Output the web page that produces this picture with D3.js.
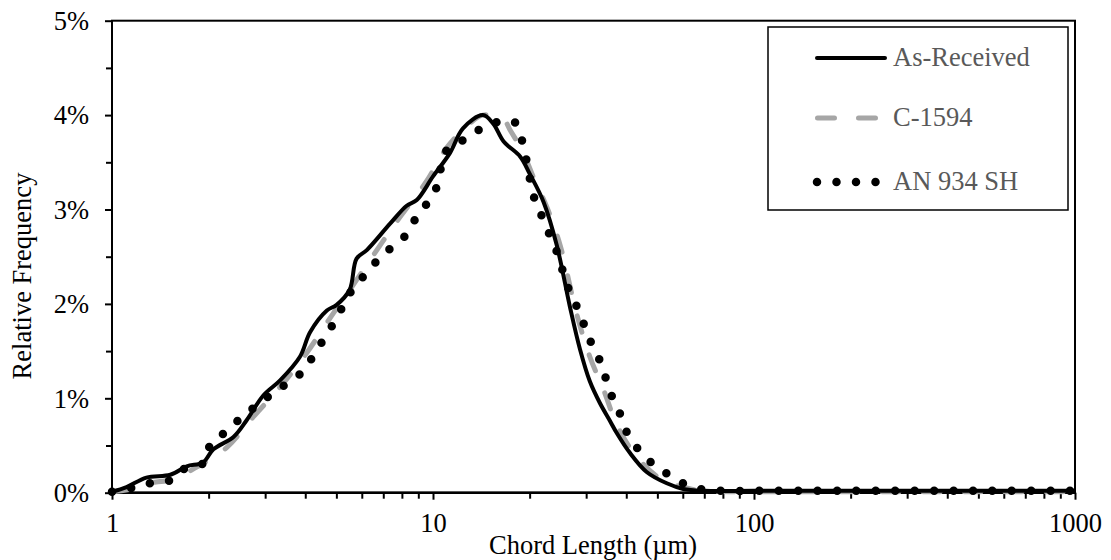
<!DOCTYPE html>
<html>
<head>
<meta charset="utf-8">
<script src="https://cdn.jsdelivr.net/npm/d3@7"></script>
<style>
  body { margin: 0; background: #fff; }
  svg text { font-family: "Liberation Serif", "Times New Roman", serif; }
</style>
</head>
<body>
<svg id="chart" width="1111" height="560"></svg>
<script>
// chord length (um) and relative frequency (%)
const asReceivedX = [1, 1.11, 1.28, 1.52, 1.71, 1.92, 2.07, 2.39, 2.63, 2.96, 3.34, 3.85, 4.14, 4.67, 5.01, 5.5, 5.78, 6.22, 7.35, 8.28, 8.9, 10, 11.3, 12.4, 14.3, 15.4, 16.6, 18.7, 20, 22.1, 24.3, 26.7, 28.7, 30.8, 33.1, 35.6, 37.4, 41.1, 46.3, 53.5, 60.2, 70, 100, 200, 500, 1000];
const asReceivedY = [0.01, 0.06, 0.16, 0.19, 0.28, 0.32, 0.46, 0.59, 0.77, 1.03, 1.19, 1.44, 1.70, 1.93, 1.99, 2.15, 2.48, 2.57, 2.85, 3.04, 3.10, 3.35, 3.60, 3.86, 4.00, 3.91, 3.72, 3.56, 3.38, 3.08, 2.62, 1.97, 1.52, 1.18, 0.95, 0.76, 0.63, 0.42, 0.22, 0.10, 0.04, 0.02, 0.02, 0.02, 0.02, 0.02];

const c1594X = [1, 1.15, 1.3, 1.53, 1.9, 2.28, 2.75, 3.34, 4.04, 4.89, 5.51, 6.84, 7.89, 9.55, 11, 13, 14.3, 16.6, 17.4, 19.1, 20.5, 22.6, 24.9, 28, 30.8, 34, 37.4, 43.1, 52.1, 61.6, 70, 100, 200, 500, 1000];
const c1594Y = [0.01, 0.04, 0.10, 0.14, 0.30, 0.48, 0.80, 1.12, 1.48, 1.90, 2.15, 2.62, 2.92, 3.30, 3.65, 3.91, 4.00, 3.95, 3.84, 3.60, 3.35, 3.03, 2.62, 1.90, 1.44, 1.09, 0.72, 0.38, 0.13, 0.05, 0.02, 0.01, 0.01, 0.01, 0.01];

const an934X = [1, 1.03, 1.19, 1.35, 1.55, 1.72, 1.95, 2.03, 2.25, 2.5, 2.79, 3.1, 3.48, 3.89, 4.22, 4.55, 4.89, 5.23, 5.6, 6.14, 6.71, 7.43, 8.24, 8.85, 9.6, 10.3, 10.6, 11.1, 12.5, 14, 16, 17.9, 18.9, 19.5, 20, 20.6, 21.7, 22.9, 24.2, 25.2, 26.3, 27.9, 29.4, 30.9, 32.9, 34.4, 36, 38.1, 39.9, 42.9, 47.1, 52.6, 59.2, 67.4, 80, 100, 200, 500, 1000];
const an934Y = [0.01, 0.02, 0.06, 0.11, 0.14, 0.28, 0.32, 0.52, 0.64, 0.78, 0.91, 1.03, 1.15, 1.27, 1.44, 1.62, 1.79, 1.97, 2.15, 2.31, 2.46, 2.60, 2.73, 2.91, 3.07, 3.25, 3.45, 3.64, 3.74, 3.85, 3.93, 3.93, 3.74, 3.54, 3.34, 3.14, 2.95, 2.76, 2.57, 2.38, 2.18, 1.99, 1.80, 1.61, 1.42, 1.23, 1.03, 0.85, 0.66, 0.49, 0.34, 0.22, 0.11, 0.04, 0.02, 0.02, 0.02, 0.02, 0.02];

const xMajorTicks = [1, 10, 100, 1000];
const xMinorTicks = [2, 3, 4, 5, 6, 7, 8, 9, 20, 30, 40, 50, 60, 70, 80, 90, 200, 300, 400, 500, 600, 700, 800, 900];
const yMajorTicks = [0, 1, 2, 3, 4, 5];
const yMinorTicks = [0.5, 1.5, 2.5, 3.5, 4.5];
const seriesNames = ['As-Received', 'C-1594', 'AN 934 SH'];

const svg = d3.select('#chart');
const plotLeft = 112, plotRight = 1075, plotTop = 20.7, plotBottom = 492.7;
const fontSize = '26.5px';

const xScale = d3.scaleLog().domain([1, 1000]).range([plotLeft, plotRight]);
const yScale = d3.scaleLinear().domain([0, 5]).range([plotBottom, plotTop]);

// plot area border
svg.append('rect')
    .attr('x', plotLeft).attr('y', plotTop)
    .attr('width', plotRight - plotLeft).attr('height', plotBottom - plotTop)
    .attr('fill', 'none').attr('stroke', '#000').attr('stroke-width', 2);

// y axis
const yAxis = svg.append('g')
    .attr('transform', `translate(${plotLeft},0)`)
    .call(d3.axisLeft(yScale).tickValues(yMajorTicks).tickSize(7).tickPadding(16)
        .tickFormat(d => d + '%'));
yAxis.select('.domain').remove();
yAxis.selectAll('line').attr('stroke', '#000').attr('stroke-width', 2);
yAxis.selectAll('text').style('font-size', fontSize).attr('fill', '#000').attr('dy', '0.33em');

const yMinor = svg.append('g')
    .attr('transform', `translate(${plotLeft},0)`)
    .call(d3.axisLeft(yScale).tickValues(yMinorTicks).tickSize(6).tickFormat(''));
yMinor.select('.domain').remove();
yMinor.selectAll('line').attr('stroke', '#000').attr('stroke-width', 2);

// x axis
const xAxis = svg.append('g')
    .attr('transform', `translate(0,${plotBottom})`)
    .call(d3.axisBottom(xScale).tickValues(xMajorTicks).tickSize(7).tickPadding(13)
        .tickFormat(d3.format('d')));
xAxis.select('.domain').remove();
xAxis.selectAll('line').attr('stroke', '#000').attr('stroke-width', 2);
xAxis.selectAll('text').style('font-size', fontSize).attr('fill', '#000');

const xMinor = svg.append('g')
    .attr('transform', `translate(0,${plotBottom})`)
    .call(d3.axisBottom(xScale).tickValues(xMinorTicks).tickSize(6).tickFormat(''));
xMinor.select('.domain').remove();
xMinor.selectAll('line').attr('stroke', '#000').attr('stroke-width', 2);

svg.append('line')
    .attr('x1', plotLeft - 1).attr('x2', plotRight + 1)
    .attr('y1', plotBottom).attr('y2', plotBottom)
    .attr('stroke', '#000').attr('stroke-width', 2.6);

// axis titles
svg.append('text')
    .attr('x', 593).attr('y', 554)
    .attr('text-anchor', 'middle')
    .style('font-size', fontSize)
    .text('Chord Length (µm)');

svg.append('text')
    .attr('transform', 'translate(31,276) rotate(-90)')
    .attr('text-anchor', 'middle')
    .style('font-size', fontSize)
    .text('Relative Frequency');

// lines
const line = d3.line()
    .x(d => xScale(d[0]))
    .y(d => yScale(d[1]))
    .curve(d3.curveCatmullRom.alpha(0.5));

svg.append('path')
    .datum(d3.zip(c1594X, c1594Y))
    .attr('d', line)
    .attr('fill', 'none')
    .attr('stroke', '#a6a6a6')
    .attr('stroke-width', 5)
    .attr('stroke-linecap', 'round')
    .attr('stroke-dasharray', '17 24');

svg.append('path')
    .datum(d3.zip(asReceivedX, asReceivedY))
    .attr('d', line)
    .attr('fill', 'none')
    .attr('stroke', '#000')
    .attr('stroke-width', 4)
    .attr('stroke-linejoin', 'round');

svg.append('path')
    .datum(d3.zip(an934X, an934Y))
    .attr('d', line)
    .attr('fill', 'none')
    .attr('stroke', '#000')
    .attr('stroke-width', 8.5)
    .attr('stroke-linecap', 'round')
    .attr('stroke-dasharray', '0 19.4');

// legend
const legend = svg.append('g');
legend.append('rect')
    .attr('x', 768).attr('y', 27)
    .attr('width', 300).attr('height', 183)
    .attr('fill', '#fff').attr('stroke', '#000').attr('stroke-width', 1.5);

const legendStyles = [
    {y: 58, stroke: '#000', width: 4, dash: null, x1: 817, x2: 885},
    {y: 118, stroke: '#a6a6a6', width: 5, dash: '17 24', x1: 817.5, x2: 876},
    {y: 182, stroke: '#000', width: 8.5, dash: '0 19.5', x1: 817, x2: 876}
];
seriesNames.forEach((name, i) => {
    const s = legendStyles[i];
    legend.append('line')
        .attr('x1', s.x1).attr('x2', s.x2)
        .attr('y1', s.y).attr('y2', s.y)
        .attr('stroke', s.stroke)
        .attr('stroke-width', s.width)
        .attr('stroke-linecap', 'round')
        .attr('stroke-dasharray', s.dash);
    legend.append('text')
        .attr('x', 893).attr('y', s.y + 8)
        .attr('fill', '#595959')
        .style('font-size', fontSize)
        .text(name);
});
</script>
</body>
</html>
